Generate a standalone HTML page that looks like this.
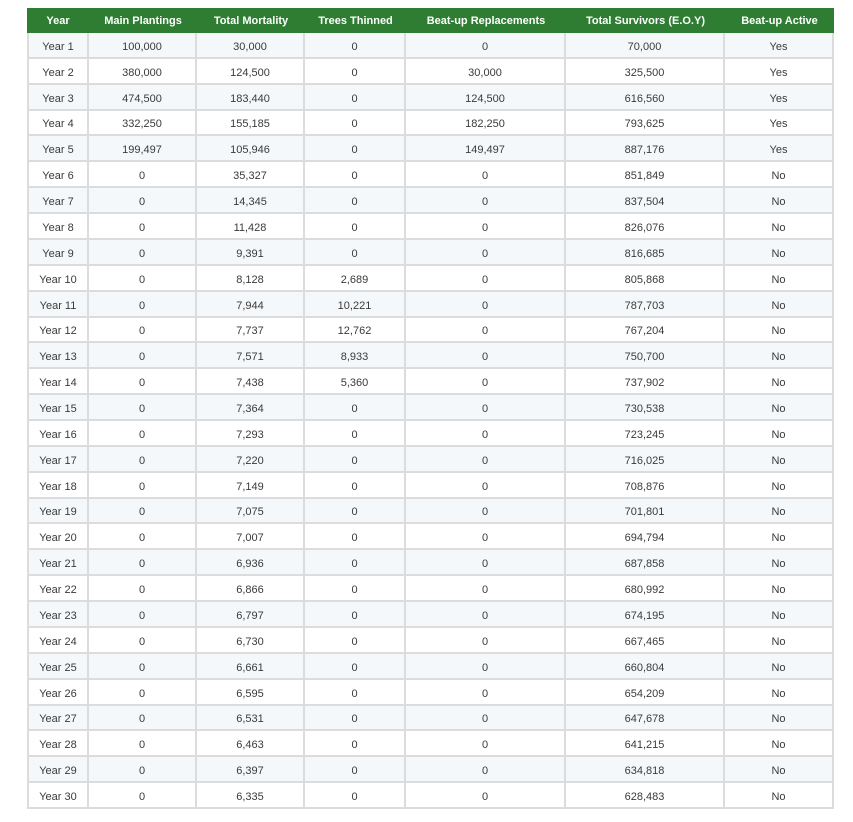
<!DOCTYPE html>
<html><head><meta charset="utf-8">
<style>
body{margin:0;width:853px;height:822px;background:#fff;font-family:"Liberation Sans",Arial,sans-serif;position:relative;overflow:hidden}
.c{position:absolute;box-sizing:border-box;display:flex;align-items:center;justify-content:center;font-size:11px;color:#3a3a3a}
.h{background:#2e7d32;color:#fff;font-weight:bold}
.b{border-right:2px solid #dcdcdc;border-bottom:2px solid #dcdcdc;padding-top:3px}
</style></head><body>
<div id="tbl"></div>
<script>
const headers=["Year","Main Plantings","Total Mortality","Trees Thinned","Beat-up Replacements","Total Survivors (E.O.Y)","Beat-up Active"];
const plantings=[100000,380000,474500,332250,199497,0,0,0,0,0,0,0,0,0,0,0,0,0,0,0,0,0,0,0,0,0,0,0,0,0];
const mortality=[30000,124500,183440,155185,105946,35327,14345,11428,9391,8128,7944,7737,7571,7438,7364,7293,7220,7149,7075,7007,6936,6866,6797,6730,6661,6595,6531,6463,6397,6335];
const thinned=[0,0,0,0,0,0,0,0,0,2689,10221,12762,8933,5360,0,0,0,0,0,0,0,0,0,0,0,0,0,0,0,0];
const beatup=[0,30000,124500,182250,149497,0,0,0,0,0,0,0,0,0,0,0,0,0,0,0,0,0,0,0,0,0,0,0,0,0];
const survivors=[70000,325500,616560,793625,887176,851849,837504,826076,816685,805868,787703,767204,750700,737902,730538,723245,716025,708876,701801,694794,687858,680992,674195,667465,660804,654209,647678,641215,634818,628483];
const active=["Yes","Yes","Yes","Yes","Yes","No","No","No","No","No","No","No","No","No","No","No","No","No","No","No","No","No","No","No","No","No","No","No","No","No"];
const edges=[27,89,197,305,406,566,725,834];
const top0=8,hH=25,rH=(809-33)/30;
const T=document.getElementById('tbl');
const f=n=>n.toLocaleString('en-US');
const names=["year","main-plantings","total-mortality","trees-thinned","beatup-replacements","total-survivors","beatup-active"];
headers.forEach((h,i)=>{
 const d=document.createElement('div');d.className='c h';
 d.style.cssText=`left:${edges[i]}px;top:${top0}px;width:${edges[i+1]-edges[i]}px;height:${hH}px`;
 d.textContent=h;
 
 
 T.appendChild(d);
});
for(let r=0;r<30;r++){
 const vals=["Year "+(r+1),f(plantings[r]),f(mortality[r]),f(thinned[r]),f(beatup[r]),f(survivors[r]),active[r]];
 const y=Math.round(33+r*rH), y2=Math.round(33+(r+1)*rH);
 vals.forEach((v,i)=>{
  const d=document.createElement('div');d.className='c b';
  d.style.cssText=`left:${edges[i]}px;top:${y}px;width:${edges[i+1]-edges[i]}px;height:${y2-y}px;background:${r%2==0?'#f5f8fa':'#fff'};`+(i==0?'border-left:2px solid #dcdcdc;':'');
  d.textContent=v;
  
  
  T.appendChild(d);
 });
}
</script>
</body></html>
